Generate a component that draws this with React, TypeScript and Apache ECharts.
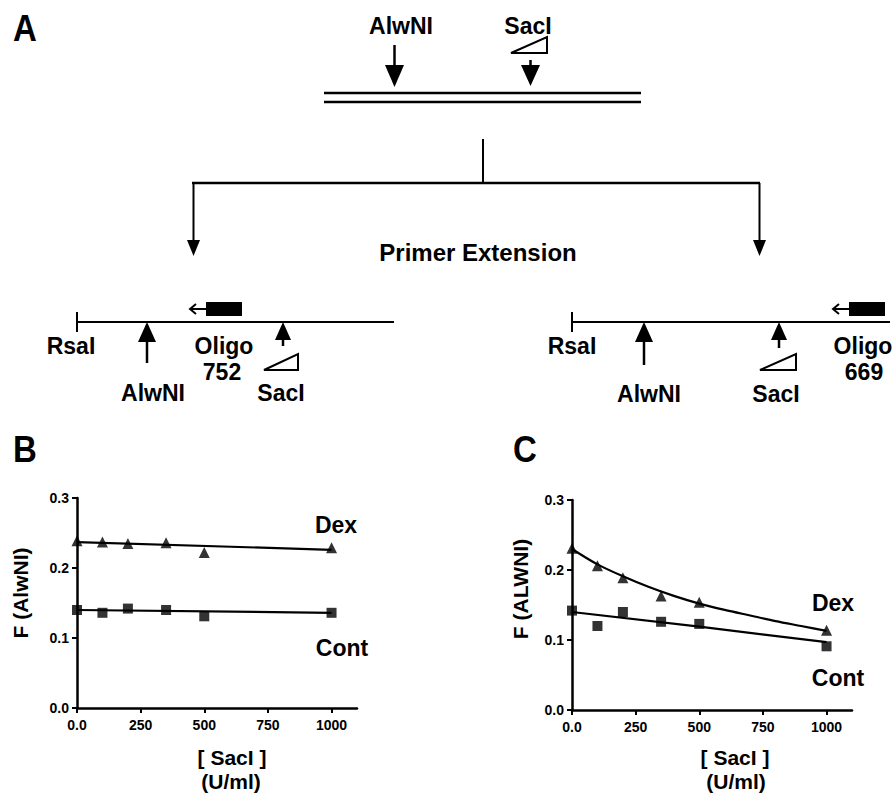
import React, { useEffect, useRef } from "react";
import * as echarts from "echarts";

// ---- data ----
const xTicks = [0, 250, 500, 750, 1000];
const yTicks = [0, 0.1, 0.2, 0.3];

// Panel B
const bDexX = [0, 100, 200, 350, 500, 1000];
const bDexY = [0.239, 0.237, 0.235, 0.236, 0.222, 0.229];
const bContX = [0, 100, 200, 350, 500, 1000];
const bContY = [0.140, 0.136, 0.142, 0.140, 0.131, 0.136];
const bDexFitX = [0, 1000];
const bDexFitY = [0.237, 0.226];
const bContFitX = [0, 1000];
const bContFitY = [0.140, 0.136];

// Panel C
const cDexX = [0, 100, 200, 350, 500, 1000];
const cDexY = [0.231, 0.206, 0.189, 0.163, 0.154, 0.114];
const cContX = [0, 100, 200, 350, 500, 1000];
const cContY = [0.142, 0.120, 0.140, 0.126, 0.123, 0.091];
const cDexFitX = [0, 100, 200, 300, 400, 500, 600, 700, 800, 900, 1000];
const cDexFitY = [0.230, 0.208, 0.191, 0.176, 0.163, 0.152, 0.143, 0.135, 0.127, 0.120, 0.113];
const cContFitX = [0, 500, 1000];
const cContFitY = [0.140, 0.119, 0.097];

const zip = (xs: number[], ys: number[]) => xs.map((x, i) => [x, ys[i]]);

const FONT = '"Liberation Sans", Arial, Helvetica, sans-serif';

const txt = (text: string, x: number, y: number, size: number, extra: any = {}) => ({
  type: "text",
  x,
  y,
  ...extra,
  style: {
    text,
    fill: "#000",
    font: `bold ${size}px ${FONT}`,
    textAlign: "center",
    textVerticalAlign: "middle",
  },
});
const ln = (x1: number, y1: number, x2: number, y2: number, w = 2) => ({
  type: "line",
  shape: { x1, y1, x2, y2 },
  style: { stroke: "#000", lineWidth: w },
});
const poly = (points: number[][]) => ({
  type: "polygon",
  shape: { points },
  style: { fill: "#000" },
});
const wedge = (points: number[][]) => ({
  type: "polygon",
  shape: { points },
  style: { fill: "#fff", stroke: "#000", lineWidth: 2 },
});
const pline = (points: number[][]) => ({
  type: "polyline",
  shape: { points },
  style: { stroke: "#000", lineWidth: 2, fill: null },
});

function buildGraphic() {
  const g: any[] = [];
  // Panel A
  g.push(txt("A", 25, 28, 33, { scaleY: 1.14 }));
  g.push(txt("AlwNI", 401, 26, 23));
  g.push(txt("SacI", 528, 26, 23));
  g.push(wedge([[511, 53], [547, 53], [547, 37]]));
  g.push(ln(394.5, 45, 394.5, 70, 2.5));
  g.push(poly([[385, 65], [404, 65], [394.5, 87]]));
  g.push(ln(530.5, 60, 530.5, 70, 2.5));
  g.push(poly([[521, 65], [540, 65], [530.5, 86]]));
  g.push(ln(324, 93, 641, 93, 2.5));
  g.push(ln(324, 102, 641, 102, 2.5));
  // tree
  g.push(ln(483, 139, 483, 183, 2));
  g.push(ln(192, 183, 760, 183, 2.5));
  g.push(ln(193.5, 183, 193.5, 245, 2));
  g.push(ln(759.5, 183, 759.5, 245, 2));
  g.push(poly([[187, 240], [200, 240], [193.5, 256]]));
  g.push(poly([[753, 240], [766, 240], [759.5, 256]]));
  g.push(txt("Primer Extension", 478, 252, 24));

  // left template
  g.push(ln(77, 322, 394, 322, 2));
  g.push(ln(77, 312, 77, 332, 2));
  g.push({ type: "rect", shape: { x: 206, y: 302, width: 36, height: 14 }, style: { fill: "#000" } });
  g.push(ln(190, 309, 206, 309, 2));
  g.push(pline([[196, 304], [190, 309], [196, 314]]));
  g.push(poly([[138, 342], [156, 342], [147, 322]]));
  g.push(ln(147, 338, 147, 363, 2.5));
  g.push(poly([[275, 340], [291, 340], [283, 322]]));
  g.push(ln(283, 336, 283, 346, 2.5));
  g.push(wedge([[264, 370], [298, 370], [298, 354]]));
  g.push(txt("RsaI", 71, 346, 23));
  g.push(txt("Oligo", 224, 346, 23));
  g.push(txt("752", 222, 372, 23));
  g.push(txt("AlwNI", 153, 393, 23));
  g.push(txt("SacI", 281, 393, 23));

  // right template
  g.push(ln(572, 322, 890, 322, 2));
  g.push(ln(572, 312, 572, 332, 2));
  g.push({ type: "rect", shape: { x: 849, y: 302, width: 36, height: 14 }, style: { fill: "#000" } });
  g.push(ln(833, 309, 849, 309, 2));
  g.push(pline([[839, 304], [833, 309], [839, 314]]));
  g.push(poly([[635, 342], [653, 342], [644, 322]]));
  g.push(ln(644, 338, 644, 365, 2.5));
  g.push(poly([[771, 340], [787, 340], [779, 322]]));
  g.push(ln(779, 336, 779, 348, 2.5));
  g.push(wedge([[760, 370], [796, 370], [796, 354]]));
  g.push(txt("RsaI", 572, 346, 23));
  g.push(txt("Oligo", 863, 346, 23));
  g.push(txt("669", 864, 372, 23));
  g.push(txt("AlwNI", 649, 394, 23));
  g.push(txt("SacI", 776, 394, 23));

  // Panel B / C labels
  g.push(txt("B", 25, 449, 33, { scaleY: 1.14 }));
  g.push(txt("C", 525, 449, 33, { scaleY: 1.14 }));
  g.push(txt("F (AlwNI)", 20, 593, 21, { rotation: Math.PI / 2 }));
  g.push(txt("F (ALWNI)", 520, 589, 21, { rotation: Math.PI / 2 }));
  g.push(txt("[ SacI ]", 232, 757, 21));
  g.push(txt("(U/ml)", 231, 781, 21));
  g.push(txt("[ SacI ]", 735, 757, 21));
  g.push(txt("(U/ml)", 736, 781, 21));
  g.push(txt("Dex", 336, 525, 23));
  g.push(txt("Cont", 342, 648, 23));
  g.push(txt("Dex", 833, 603, 23));
  g.push(txt("Cont", 838, 678, 23));
  return g;
}

const axisCommon = {
  axisLine: { show: true, onZero: false, lineStyle: { color: "#000", width: 2.5 } },
  axisTick: { show: true, length: 5, lineStyle: { color: "#000", width: 2 } },
  splitLine: { show: false },
};

function xAxis(gridIndex: number) {
  return {
    type: "value",
    gridIndex,
    min: 0,
    max: 1100,
    interval: 250,
    ...axisCommon,
    axisLabel: {
      color: "#000",
      fontSize: 14,
      fontWeight: "bold",
      fontFamily: FONT,
      margin: 10,
      showMaxLabel: false,
      formatter: (v: number) => (xTicks.includes(v) ? (v === 0 ? "0.0" : String(v)) : ""),
    },
  };
}
function yAxis(gridIndex: number) {
  return {
    type: "value",
    gridIndex,
    min: 0,
    max: 0.3,
    interval: 0.1,
    ...axisCommon,
    axisLabel: {
      color: "#000",
      fontSize: 14,
      fontWeight: "bold",
      fontFamily: FONT,
      margin: 8,
      formatter: (v: number) => {
        const t = yTicks.find((k) => Math.abs(k - v) < 1e-6);
        return t === undefined ? "" : t.toFixed(1);
      },
    },
  };
}

const fit = (name: string, data: number[][], idx: number, smooth: boolean | number = false) => ({
  name,
  type: "line",
  xAxisIndex: idx,
  yAxisIndex: idx,
  data,
  smooth,
  symbol: "none",
  lineStyle: { color: "#000", width: 2.2 },
  z: 2,
});
const pts = (name: string, data: number[][], idx: number, symbol: string, size: number) => ({
  name,
  type: "scatter",
  xAxisIndex: idx,
  yAxisIndex: idx,
  data,
  symbol,
  symbolSize: size,
  itemStyle: { color: "#000" },
  z: 3,
});

export default function App() {
  const ref = useRef<HTMLDivElement>(null);
  useEffect(() => {
    if (!ref.current) return;
    const chart = echarts.init(ref.current, undefined, { renderer: "svg" });
    chart.setOption({
      animation: false,
      backgroundColor: "#fff",
      grid: [
        { left: 77, top: 498, width: 280, height: 210, containLabel: false },
        { left: 572, top: 500, width: 280, height: 210, containLabel: false },
      ],
      xAxis: [xAxis(0), xAxis(1)],
      yAxis: [yAxis(0), yAxis(1)],
      series: [
        fit("B Dex fit", zip(bDexFitX, bDexFitY), 0),
        fit("B Cont fit", zip(bContFitX, bContFitY), 0),
        pts("B Dex", zip(bDexX, bDexY), 0, "triangle", 11),
        pts("B Cont", zip(bContX, bContY), 0, "rect", 10),
        fit("C Dex fit", zip(cDexFitX, cDexFitY), 1, 0.3),
        fit("C Cont fit", zip(cContFitX, cContFitY), 1),
        pts("C Dex", zip(cDexX, cDexY), 1, "triangle", 11),
        pts("C Cont", zip(cContX, cContY), 1, "rect", 10),
      ],
      graphic: buildGraphic(),
    });
    return () => chart.dispose();
  }, []);
  return (
    <div
      ref={ref}
      style={{ position: "fixed", left: 0, top: 0, width: 896, height: 793, background: "#fff" }}
    />
  );
}
